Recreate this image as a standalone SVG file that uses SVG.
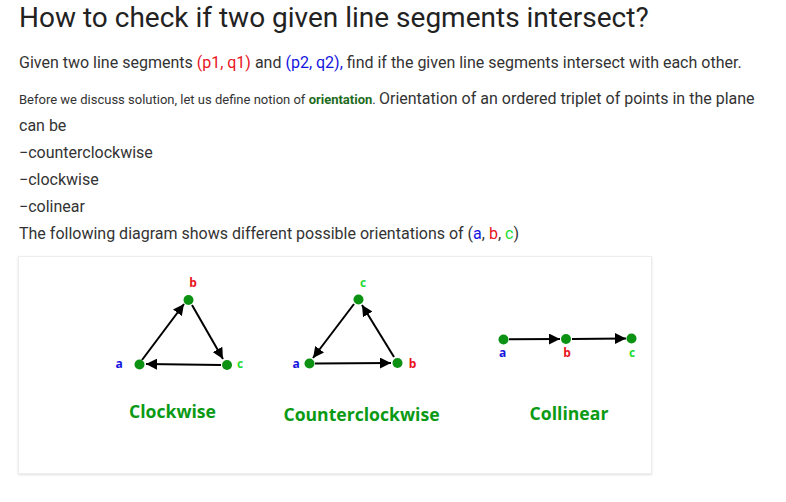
<svg xmlns="http://www.w3.org/2000/svg" width="786" height="502" viewBox="0 0 786 502">
<style>
.t{font-family:Roboto,"Liberation Sans",sans-serif;fill:#333;}
.h{font-family:Roboto,"Liberation Sans",sans-serif;fill:#222;font-size:28px;}
.lbl{font-family:"Open Sans","Liberation Sans",sans-serif;font-weight:bold;font-size:12px;text-anchor:middle;}
.cap{font-family:"Open Sans","Liberation Sans",sans-serif;font-weight:bold;font-size:17.6px;fill:#0a9a14;text-anchor:middle;}
.dot{fill:#0b9212;}
.edge{stroke:#000;stroke-width:2;fill:none;marker-end:url(#ah);}
.ra{fill:#e8141c;}.ba{fill:#1515e0;}.ga{fill:#22dd33;}
</style>
<defs>
<marker id="ah" viewBox="0 0 10 10" refX="10" refY="5" markerWidth="5.5" markerHeight="5.5" orient="auto" markerUnits="strokeWidth">
<path d="M0,0 L10,5 L0,10 Z" fill="#000"/>
</marker>
<filter id="sh" x="-5%" y="-5%" width="110%" height="110%">
<feDropShadow dx="0" dy="1" stdDeviation="1.2" flood-color="#000" flood-opacity="0.12"/>
</filter>
</defs>
<rect width="786" height="502" fill="#fff"/>
<text class="h" x="19" y="27">How to check if two given line segments intersect?</text>
<text class="t" x="19" y="68" font-size="16">Given two line segments <tspan class="ra">(p1, q1)</tspan> and <tspan class="ba">(p2, q2),</tspan> find if the given line segments intersect with each other.</text>
<text class="t" x="19" y="104" font-size="13">Before we discuss solution, let us define notion of <tspan font-weight="bold" fill="#1e6b1e">orientation</tspan>. <tspan font-size="16">Orientation of an ordered triplet of points in the plane</tspan></text>
<text class="t" x="19" y="131" font-size="16">can be</text>
<text class="t" x="19" y="158" font-size="16">−counterclockwise</text>
<text class="t" x="19" y="185" font-size="16">−clockwise</text>
<text class="t" x="19" y="212" font-size="16">−colinear</text>
<text class="t" x="19" y="239" font-size="16">The following diagram shows different possible orientations of (<tspan class="ba">a</tspan>, <tspan class="ra">b</tspan>, <tspan class="ga">c</tspan>)</text>
<g id="card"><rect x="18.5" y="256.5" width="633" height="217" fill="#fff" stroke="#eeeeee" filter="url(#sh)"/></g>
<g id="connectors">
<line class="edge" x1="142" y1="360" x2="184" y2="304"/>
<line class="edge" x1="192" y1="305" x2="223" y2="359"/>
<line class="edge" x1="221" y1="365" x2="146" y2="364"/>
<line class="edge" x1="354" y1="304" x2="313" y2="358"/>
<line class="edge" x1="315" y1="363.5" x2="391" y2="363"/>
<line class="edge" x1="394" y1="357" x2="362" y2="305"/>
<line class="edge" x1="509" y1="339.2" x2="560" y2="339"/>
<line class="edge" x1="572" y1="339" x2="626" y2="338.4"/>
</g>
<g id="cw">
<g id="cw-a"><circle class="dot" cx="139.5" cy="364.5" r="5"/><text class="lbl ba" x="119" y="368">a</text></g>
<g id="cw-b"><circle class="dot" cx="188.5" cy="300" r="5"/><text class="lbl ra" x="193" y="287">b</text></g>
<g id="cw-c"><circle class="dot" cx="227" cy="365" r="5"/><text class="lbl ga" x="240" y="368">c</text></g>
<text class="cap" x="172.5" y="418">Clockwise</text>
</g>
<g id="ccw">
<g id="ccw-a"><circle class="dot" cx="309.5" cy="363.5" r="5"/><text class="lbl ba" x="296" y="367.5">a</text></g>
<g id="ccw-c"><circle class="dot" cx="358.5" cy="299.5" r="5"/><text class="lbl ga" x="363" y="287">c</text></g>
<g id="ccw-b"><circle class="dot" cx="397.5" cy="363" r="5"/><text class="lbl ra" x="412.5" y="368" font-size="14">b</text></g>
<text class="cap" x="361.5" y="421">Counterclockwise</text>
</g>
<g id="col">
<g id="col-a"><circle class="dot" cx="503.5" cy="339.5" r="5"/><text class="lbl ba" x="502.5" y="357">a</text></g>
<g id="col-b"><circle class="dot" cx="566" cy="339" r="5"/><text class="lbl ra" x="567" y="357">b</text></g>
<g id="col-c"><circle class="dot" cx="631.5" cy="338.5" r="5"/><text class="lbl ga" x="632" y="357">c</text></g>
<text class="cap" x="569" y="420">Collinear</text>
</g>
</svg>
